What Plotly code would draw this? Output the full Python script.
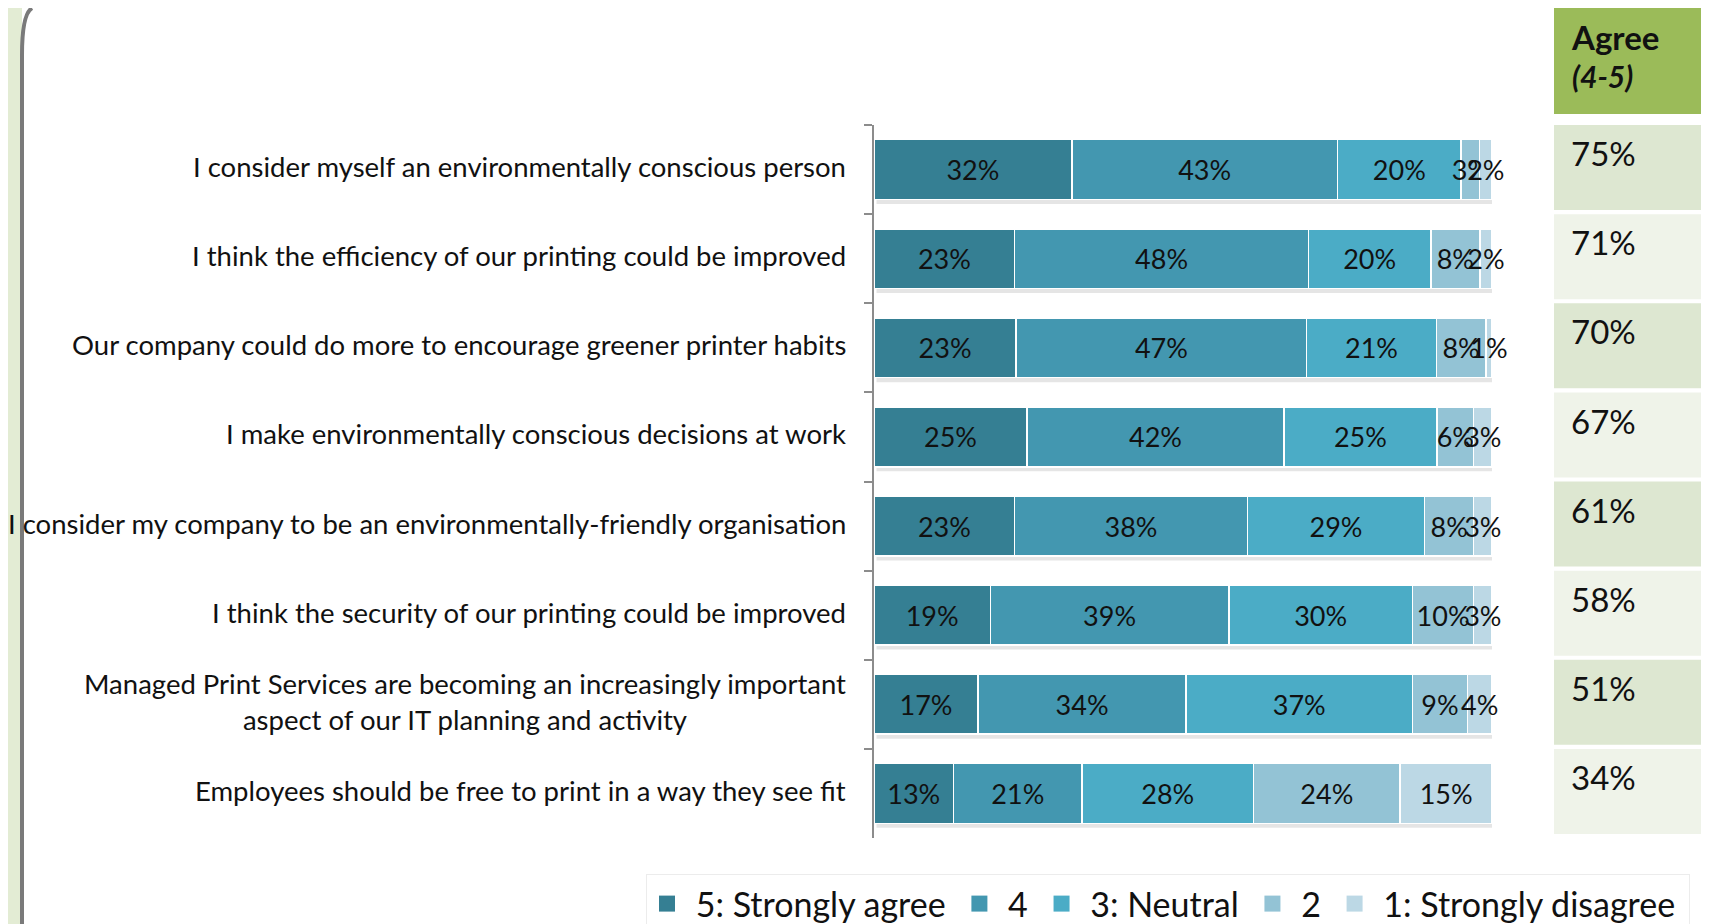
import plotly.graph_objects as go

# ---------------- data ----------------
categories = [
    "I consider myself an environmentally conscious person",
    "I think the efficiency of our printing could be improved",
    "Our company could do more to encourage greener printer habits",
    "I make environmentally conscious decisions at work",
    "I consider my company to be an environmentally-friendly organisation",
    "I think the security of our printing could be improved",
    "Managed Print Services are becoming an increasingly important<br>aspect of our IT planning and activity",
    "Employees should be free to print in a way they see fit",
]
series_names = ["5: Strongly agree", "4", "3: Neutral", "2", "1: Strongly disagree"]
strongly_agree = [32, 23, 23, 25, 23, 19, 17, 13]
agree4 = [43, 48, 47, 42, 38, 39, 34, 21]
neutral = [20, 20, 21, 25, 29, 30, 37, 28]
disagree2 = [3, 8, 8, 6, 8, 10, 9, 24]
strongly_disagree = [2, 2, 1, 3, 3, 3, 4, 15]
agree_total = [75, 71, 70, 67, 61, 58, 51, 34]
agree_header = "Agree"
agree_sub = "(4-5)"

series_values = [strongly_agree, agree4, neutral, disagree2, strongly_disagree]
colors = ["#357f93", "#4397b0", "#4bacc6", "#93c3d5", "#bcd8e5"]

# ---------------- geometry helpers (page pixels -> paper) ----------------
OFF = 8                      # default body margin of the html page
W, H = 1709 - OFF, 924 - OFF  # figure size
T = 125 - OFF
B = H - (838 - OFF)
PH = H - T - B
FONT = "Lato, 'Open Sans', sans-serif"
NB = "\u00a0"


def px(x):
    return (x - OFF) / W


def py(y):
    return (H - B - (y - OFF)) / PH


def cy(y):
    # page pixel -> container fraction
    return 1 - (y - OFF) / H


fig = go.Figure()
for name, vals, col in zip(series_names, series_values, colors):
    fig.add_trace(go.Bar(
        y=categories, x=vals, name=name, orientation="h",
        marker=dict(color=col, line=dict(color="white", width=1.5)),
        text=vals, texttemplate="%{text}%", textposition="inside",
        insidetextanchor="middle", textangle=0, cliponaxis=False,
        textfont=dict(family=FONT, size=27, color="#111111"),
        width=0.67, hoverinfo="skip", showlegend=False,
    ))
# legend entries (square markers)
for name, col in zip(series_names, colors):
    fig.add_trace(go.Scatter(
        x=[None], y=[None], mode="markers", name=NB + name + NB,
        marker=dict(symbol="square", size=16, color=col),
        hoverinfo="skip", showlegend=True,
    ))

shapes = []
annotations = []

# left decorative strip and curved border
shapes.append(dict(type="rect", xref="paper", yref="paper",
                   x0=px(OFF), x1=px(22), y0=py(924), y1=py(OFF),
                   fillcolor="#e3ecd4", line=dict(width=0), layer="below"))
shapes.append(dict(type="path", xref="paper", yref="paper",
                   path=f"M {px(22)} {py(924)} L {px(22)} {py(55)} Q {px(22)} {py(14)} {px(32)} {py(OFF)}",
                   line=dict(color="#7a7a7a", width=4)))

# bar shadows
for i in range(len(categories)):
    shapes.append(dict(type="rect", xref="x", yref="y",
                       x0=0.4, x1=100.6, y0=i - 0.335 + 0.05, y1=i + 0.335 + 0.05,
                       fillcolor="rgba(0,0,0,0.10)", line=dict(width=0), layer="below"))

# agree table
shapes.append(dict(type="rect", xref="paper", yref="paper",
                   x0=px(1554), x1=px(1709), y0=py(114), y1=py(OFF),
                   fillcolor="#9bbb59", line=dict(width=0)))
row_fills = ["#dde7d1", "#eff3e9"]
for i, v in enumerate(agree_total):
    shapes.append(dict(type="rect", xref="paper", yref="y",
                       x0=px(1554), x1=px(1709), y0=i - 0.5, y1=i + 0.5 - 0.045,
                       fillcolor=row_fills[i % 2], line=dict(width=0)))
    annotations.append(dict(xref="paper", yref="y", x=px(1569), y=i - 0.5 + 0.07,
                            xanchor="left", yanchor="top", showarrow=False,
                            text=f"{v}%", font=dict(family=FONT, size=33, color="#111111")))
annotations.append(dict(xref="paper", yref="paper", x=px(1569), y=py(15),
                        xanchor="left", yanchor="top", showarrow=False,
                        text=f"<b>{agree_header}</b>", font=dict(family=FONT, size=33, color="#111111")))
annotations.append(dict(xref="paper", yref="paper", x=px(1570), y=py(56),
                        xanchor="left", yanchor="top", showarrow=False,
                        text=f"<b><i>{agree_sub}</i></b>", font=dict(family=FONT, size=30, color="#111111")))

# category labels
for i, c in enumerate(categories):
    annotations.append(dict(xref="paper", yref="y", x=px(848), y=i, yshift=3,
                            xanchor="right", yanchor="middle", align="center",
                            showarrow=False, text=c,
                            font=dict(family=FONT, size=27.5, color="#111111")))

fig.update_layout(
    width=W, height=H,
    barmode="stack", barnorm="percent",
    margin=dict(l=0, r=0, t=T, b=B, autoexpand=False),
    paper_bgcolor="white", plot_bgcolor="rgba(0,0,0,0)",
    font=dict(family=FONT, color="#111111"),
    uniformtext=dict(minsize=27, mode="show"),
    xaxis=dict(domain=[px(874), px(1492)], range=[0, 100], visible=False, fixedrange=True),
    yaxis=dict(range=[len(categories) - 0.5, -0.5], showticklabels=False, ticks="outside",
               tickson="boundaries", ticklen=8, tickcolor="#8c8c8c", tickwidth=1.5,
               showline=True, linecolor="#8c8c8c", linewidth=1.5, showgrid=False),
    showlegend=True,
    legend=dict(orientation="h", x=px(646), xanchor="left", yref="container", y=cy(874), yanchor="top",
                traceorder="normal", font=dict(family=FONT, size=34, color="#111111"),
                bgcolor="white", bordercolor="#ececec", borderwidth=1,
                itemsizing="trace", itemwidth=30),
    shapes=shapes, annotations=annotations,
)

fig.write_html("out.html")
